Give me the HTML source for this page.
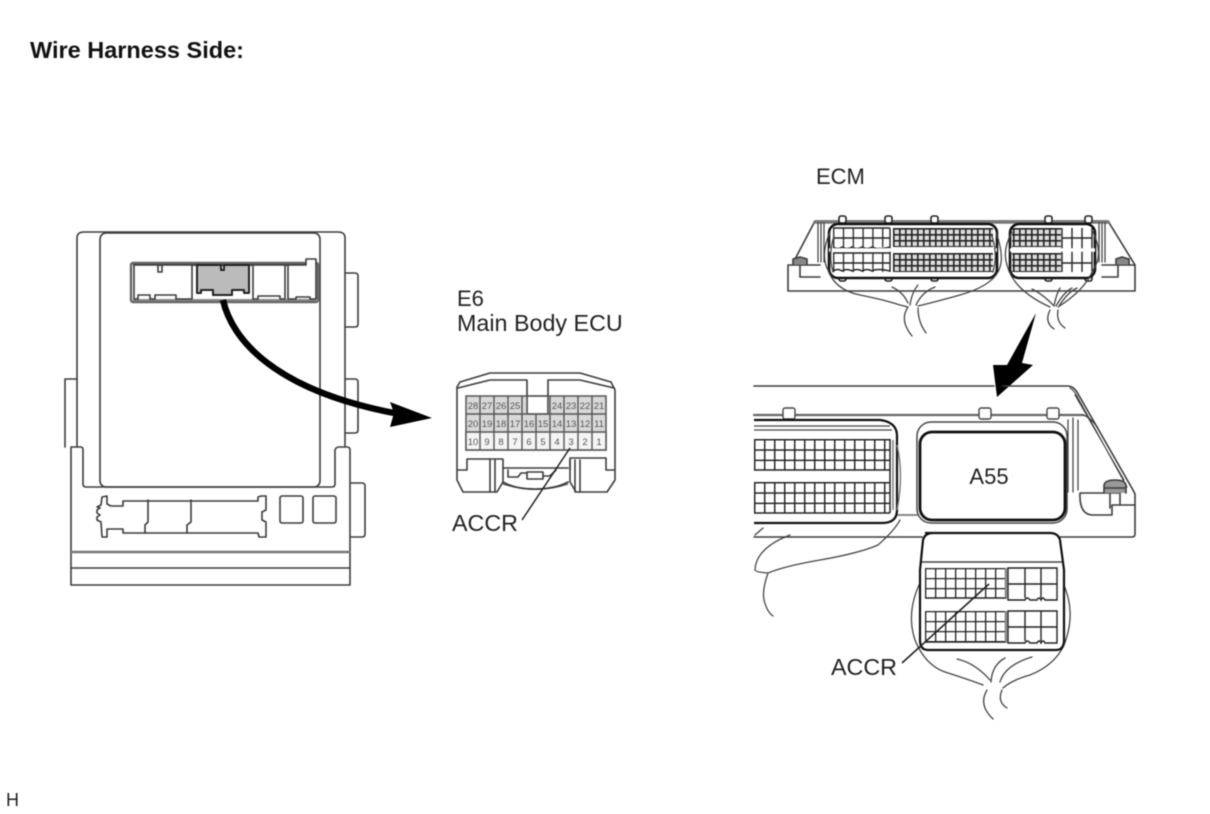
<!DOCTYPE html>
<html><head><meta charset="utf-8"><style>
html,body{margin:0;padding:0;background:#fff;width:1210px;height:814px;overflow:hidden}
svg{display:block;filter:blur(.45px)}
text{font-family:"Liberation Sans",sans-serif;fill:#222;stroke:none}
.l{fill:none;stroke:#3c3c3c;stroke-width:1.6;stroke-linejoin:round;stroke-linecap:round}
.t{fill:none;stroke:#444;stroke-width:1.3;stroke-linecap:round}
.n{font-size:9.5px;fill:#555;text-anchor:middle}
</style></head><body>
<svg width="1210" height="814" viewBox="0 0 1210 814" xmlns="http://www.w3.org/2000/svg">
<defs>
<pattern id="c10" patternUnits="userSpaceOnUse" width="10" height="10.3" x="754" y="439"><rect width="10" height="10.3" fill="#fff"/><path d="M.7 0V10.3M0 .7H10" stroke="#222" stroke-width="1.5" fill="none"/></pattern>
<pattern id="c10b" patternUnits="userSpaceOnUse" width="10" height="10.3" x="754" y="482"><rect width="10" height="10.3" fill="#fff"/><path d="M.7 0V10.3M0 .7H10" stroke="#222" stroke-width="1.5" fill="none"/></pattern>
<pattern id="f1" patternUnits="userSpaceOnUse" width="6" height="6" x="893" y="228"><rect width="6" height="6" fill="#ddd"/><path d="M.8 0V6M0 .8H6" stroke="#222" stroke-width="1.6" fill="none"/></pattern>
<pattern id="f2" patternUnits="userSpaceOnUse" width="6" height="6" x="893" y="253"><rect width="6" height="6" fill="#ddd"/><path d="M.8 0V6M0 .8H6" stroke="#222" stroke-width="1.6" fill="none"/></pattern>
<pattern id="m1" patternUnits="userSpaceOnUse" width="9.8" height="9.8" x="833" y="228"><path d="M.7 0V9.8" stroke="#333" stroke-width="1.4" fill="none"/></pattern>
<pattern id="d1" patternUnits="userSpaceOnUse" width="10" height="10" x="925" y="568"><rect width="10" height="10" fill="#fff"/><path d="M.6 0V10M0 .6H10" stroke="#222" stroke-width="1.4" fill="none"/></pattern>
<pattern id="d2" patternUnits="userSpaceOnUse" width="10" height="10" x="925" y="611"><rect width="10" height="10" fill="#fff"/><path d="M.6 0V10M0 .6H10" stroke="#222" stroke-width="1.4" fill="none"/></pattern>
</defs>

<text x="30" y="58" style="font-weight:bold;font-size:23.5px;fill:#111">Wire Harness Side:</text>
<text x="6" y="806" style="font-size:18px">H</text>

<!-- Left unit -->
<g class="l">
<path d="M77 447V238Q77 232 84 232H338Q345 232 345 238V447"/>
<path d="M65 447V379H77M345 273H355Q358 273 358 276V324Q358 327 355 327H345M345 379H355Q358 379 358 382V430Q358 433 355 433H345M350 483H362Q365 483 365 486V534Q365 537 362 537H350"/>
<path d="M71 585V447H81Q83 447 83 450V484Q83 487 86 487H332Q335 487 335 484V450Q336 447 339 447H347Q350 447 350 450V585Z" fill="#fff"/>
<rect x="100" y="233" width="220" height="254" rx="6"/>
<path d="M71 552H350" stroke-width="2.4" stroke="#777"/><path d="M71 568H350"/>
<rect x="280" y="496" width="23" height="27" rx="2"/><rect x="313" y="496" width="23" height="27" rx="2"/>
<path d="M102 497L107 496V504L111 506H123V501H258V497L261 496H266V510L262 512V520L266 522V537H259L258 533H123V529H107V537H102L101 522L97 520V517L100 515L97 513V510L100 508L97 507L101 505Z"/>
<path d="M148 500V522L145 525V533M191 500V522L187 525V533"/>
</g>
<rect x="131" y="263" width="187" height="39" rx="2" fill="#fff" stroke="#666" stroke-width="2.4"/>
<path d="M133 265H316" stroke="#444" stroke-width="2"/>
<path d="M133 300H316" stroke="#888" stroke-width="2"/>
<g class="l" stroke-width="1.4">
<path d="M134 265H158V272H162V265H192V299H176V295H155V299H150V295H138V299H134Z" fill="#fff"/>
<path d="M253 265H285V299H280V296H258V299H253Z" fill="#fff"/>
<path d="M288 265H306V259H316V299H310V297H296V299H288Z" fill="#fff"/>
</g>
<path d="M197 265H221V270H224V265H249V293H244V290H232V295H213V290H201V293H197Z" fill="#bbb" stroke="#222" stroke-width="2" stroke-linejoin="round"/>
<path d="M223 300C232 340 275 390 394 413" fill="none" stroke="#000" stroke-width="6.4"/>
<path d="M390 402L432 418L390 427L394 413Z" fill="#000"/>

<!-- E6 connector -->
<text x="457" y="306" style="font-size:22px">E6</text>
<text x="457" y="331" style="font-size:23.3px">Main Body ECU</text>
<g class="l">
<path d="M457 387L460 382L490 373H580L611 382L615 390V480L607 492H576L570 482V458H606V470H615M457 470H467V459H503V482L497 492H463L457 480V387"/>
<path d="M458 388L490 380H527V396M614 388L580 380H548V396M527 412V396H548V412"/>
<path d="M490 460V492M495 460V492M570 460V470M580 460V492M575 460V492"/>
<path d="M503 468H568M503 482Q515 489 535 489Q555 489 568 482"/>
<path d="M508 470V477H518L521 473H527M543 476H550L556 470M527 472H543V479H527Z"/>
<path d="M503 484Q535 495 568 484" stroke-width="1"/>
</g>
<path d="M466 396H527V414H548V396H606V450H466Z" fill="#d9d9d9" stroke="#555" stroke-width="1.5"/>
<path d="M466 432H606V450H466Z" fill="#f4f4f4" stroke="#555" stroke-width="1.5"/>
<path d="M466 414H606M480 396V450M494 396V450M508 396V450M522 396V450M536 414V450M550 396V450M564 396V450M578 396V450M592 396V450" stroke="#555" stroke-width="1.4" fill="none"/>
<g>
<text class="n" x="473" y="409">28</text><text class="n" x="487" y="409">27</text><text class="n" x="501" y="409">26</text><text class="n" x="515" y="409">25</text>
<text class="n" x="557" y="409">24</text><text class="n" x="571" y="409">23</text><text class="n" x="585" y="409">22</text><text class="n" x="599" y="409">21</text>
<text class="n" x="473" y="427">20</text><text class="n" x="487" y="427">19</text><text class="n" x="501" y="427">18</text><text class="n" x="515" y="427">17</text><text class="n" x="529" y="427">16</text><text class="n" x="543" y="427">15</text><text class="n" x="557" y="427">14</text><text class="n" x="571" y="427">13</text><text class="n" x="585" y="427">12</text><text class="n" x="599" y="427">11</text>
<text class="n" x="473" y="445">10</text><text class="n" x="487" y="445">9</text><text class="n" x="501" y="445">8</text><text class="n" x="515" y="445">7</text><text class="n" x="529" y="445">6</text><text class="n" x="543" y="445">5</text><text class="n" x="557" y="445">4</text><text class="n" x="571" y="445">3</text><text class="n" x="585" y="445">2</text><text class="n" x="599" y="445">1</text>
</g>
<path d="M570 448L522 520" stroke="#222" stroke-width="1.5"/>
<text x="452" y="531" style="font-size:23.3px">ACCR</text>

<!-- ECM top -->
<text x="816" y="184" style="font-size:22px">ECM</text>
<g class="l">
<path d="M788 265V291H1135V265L1108 221H815L793 263M788 265H820M800 265V277H820M1135 265H1102M1118 265V277H1102"/>
<path d="M815 222H1108" stroke="#777" stroke-width="3.4"/>
<path d="M818 223V262M821 223V262M824 223V262M1099 223V262M1102 223V262M1105 223V262" stroke-width="1.2"/>
<path d="M793 264V259L800 257L807 259V264M1116 264V259L1122 257L1129 259V264" fill="#888"/>
</g>
<g fill="#fff" stroke="#222" stroke-width="1.6">
<rect x="839" y="216" width="7" height="7" rx="2"/><rect x="885" y="216" width="7" height="7" rx="2"/><rect x="931" y="216" width="7" height="7" rx="2"/><rect x="1045" y="216" width="7" height="7" rx="2"/><rect x="1085" y="216" width="7" height="7" rx="2"/>
<rect x="839" y="275" width="7" height="6" rx="2"/><rect x="885" y="275" width="7" height="6" rx="2"/><rect x="931" y="275" width="7" height="6" rx="2"/><rect x="1045" y="275" width="7" height="6" rx="2"/><rect x="1085" y="275" width="7" height="6" rx="2"/>
</g>
<rect x="829" y="224" width="168" height="54" rx="9" fill="#fff" stroke="#111" stroke-width="2.6"/>
<rect x="1010" y="224" width="85" height="54" rx="9" fill="#fff" stroke="#111" stroke-width="2.6"/>
<rect x="893" y="228" width="100" height="19" fill="url(#f1)"/>
<rect x="893" y="253" width="100" height="19" fill="url(#f2)"/>
<rect x="1012" y="228" width="49" height="19" fill="url(#f1)"/>
<rect x="1012" y="253" width="49" height="19" fill="url(#f2)"/>
<rect x="833" y="228" width="57" height="19" fill="url(#m1)"/>
<rect x="833" y="253" width="57" height="19" fill="url(#m1)"/>
<path d="M833 238H890M833 263H890M833 228H890M833 253H890M833 247Q838 250 842 247Q847 250 852 247Q857 250 862 247Q867 250 872 247Q877 250 890 247M833 271Q838 268 842 271Q847 268 852 271Q857 268 862 271Q867 268 872 271Q877 268 890 271M890 228V272M1062 238H1092M1062 263H1092M1062 228V272M1072 228V272M1082 228V272M1092 228V272" stroke="#222" stroke-width="1.4" fill="none"/>
<path d="M829 250H997M1010 250H1095" stroke="#fff" stroke-width="3.6"/>
<g class="t">
<path d="M830 232Q820 255 828 270Q835 290 860 295Q885 300 900 305L908 307M996 232Q1004 255 1000 267Q995 285 960 295Q935 302 918 306"/>
<path d="M834 236Q828 255 833 272M992 236Q998 255 993 272"/>
<path d="M908 307Q899 320 912 336M918 308Q918 322 926 333"/>
<path d="M892 287Q903 292 908 303M918 285Q912 292 910 305M935 287Q922 292 916 305"/>
<path d="M1012 232Q1002 250 1007 265Q1013 290 1050 307M1093 232Q1104 255 1093 270Q1085 290 1058 307"/>
<path d="M1050 310Q1044 322 1054 329M1058 310Q1056 322 1065 328"/>
<path d="M1032 289Q1044 295 1054 306M1060 288Q1056 295 1054 306M1072 288Q1064 292 1056 306M1077 288Q1068 292 1059 306"/>
</g>
<path d="M1036 313L1022 363L1033 365L997 397L993 365L1007 365Z" fill="#000"/>

<!-- ECM lower -->
<g class="l">
<path d="M754 386H994M1003 386H1068Q1073 386 1077 392L1133 490L1135 494V534Q1135 537 1132 537H1060M922 537H754"/>
<path d="M1070 388Q1074 390 1078 398L1127 487M1075 395L1124 480" stroke-width="1.1"/>
<path d="M754 415H1083" stroke="#666" stroke-width="2.2"/>
<path d="M1083 415Q1090 417 1098 428M1068 420V492M1073 418V492M1078 420V490" stroke-width="1.2"/>
<path d="M1080 493Q1079 514 1092 515H1112V505H1135M1080 493H1120V505M1110 493V508" />
<path d="M1104 493V486Q1104 480 1115 480Q1126 480 1126 486V493M1104 488H1126" fill="#999"/>
<path d="M897 515H917" stroke="#888" stroke-width="2"/>
</g>
<g fill="#fff" stroke="#444" stroke-width="1.4">
<rect x="783" y="408" width="12" height="11" rx="2"/><rect x="979" y="408" width="12" height="11" rx="2"/><rect x="1047" y="408" width="12" height="11" rx="2"/>
</g>
<path d="M754 420H880Q897 422 897 436V510Q897 523 882 523H754" fill="#fff" stroke="#111" stroke-width="2.2"/>
<path d="M754 426H890M754 430H892" stroke="#444" stroke-width="1.2"/>
<rect x="754" y="439" width="136" height="31" fill="url(#c10)"/>
<rect x="754" y="482" width="136" height="31" fill="url(#c10b)"/>
<path d="M754 470H890M754 513H890M890 439V513" stroke="#222" stroke-width="1.5"/>
<path d="M893 440V510M897 445Q904 475 897 510" stroke="#777" stroke-width="1.4" fill="none"/>
<rect x="917" y="422" width="150" height="101" rx="14" fill="#fff" stroke="#444" stroke-width="1.5"/>
<rect x="920" y="432" width="145" height="88" rx="12" fill="#fff" stroke="#111" stroke-width="2.8"/>
<text x="989" y="484" text-anchor="middle" style="font-size:22px">A55</text>

<path d="M900 520Q895 530 878 545Q860 553 820 560Q785 566 768 573M768 573Q755 572 755 570M768 573Q762 590 764 600Q767 612 773 616M755 570Q756 548 790 535M755 535L763 528" class="t" fill="none"/>
<g class="t">
<path d="M923 577Q905 610 915 640Q925 665 945 672Q970 680 983 685M1060 577Q1078 610 1064 645Q1055 665 1030 675Q1012 680 1003 688"/>
<path d="M987 690Q978 705 993 719M1002 690Q997 702 1007 708"/>
<path d="M957 659Q975 663 990 680M1005 658Q992 665 991 682M1032 657Q1005 665 1000 682"/>
</g>
<path d="M925 533H1050Q1058 533 1060 540L1064 570V640Q1064 650 1056 650H928Q920 650 920 640V570L923 540Q925 533 933 533Z" fill="#fff" stroke="#111" stroke-width="2.2"/>
<path d="M922 562H1062" stroke="#444" stroke-width="1.5"/>
<rect x="925" y="568" width="81" height="30" fill="url(#d1)"/>
<rect x="925" y="611" width="81" height="31" fill="url(#d2)"/>
<path d="M925 598H1006V568M925 642H1006V611" stroke="#222" stroke-width="1.4" fill="none"/>
<path d="M1008 568H1057V600H1045Q1043 596 1041 600Q1039 596 1037 600H1030Q1027 596 1025 600H1008ZM1008 611H1057V643H1045Q1043 639 1041 643Q1039 639 1037 643H1030Q1027 639 1025 643H1008ZM1008 584H1057M1008 627H1057M1025 568V598M1041 568V598M1025 611V641M1041 611V641" fill="#fff" stroke="#222" stroke-width="1.4"/>
<path d="M1006 568V598M1006 611V642" stroke="#888" stroke-width="2.6"/>
<path d="M989 584L902 663" stroke="#222" stroke-width="1.6"/>
<text x="831" y="675" style="font-size:23.3px">ACCR</text>
</svg>
</body></html>
